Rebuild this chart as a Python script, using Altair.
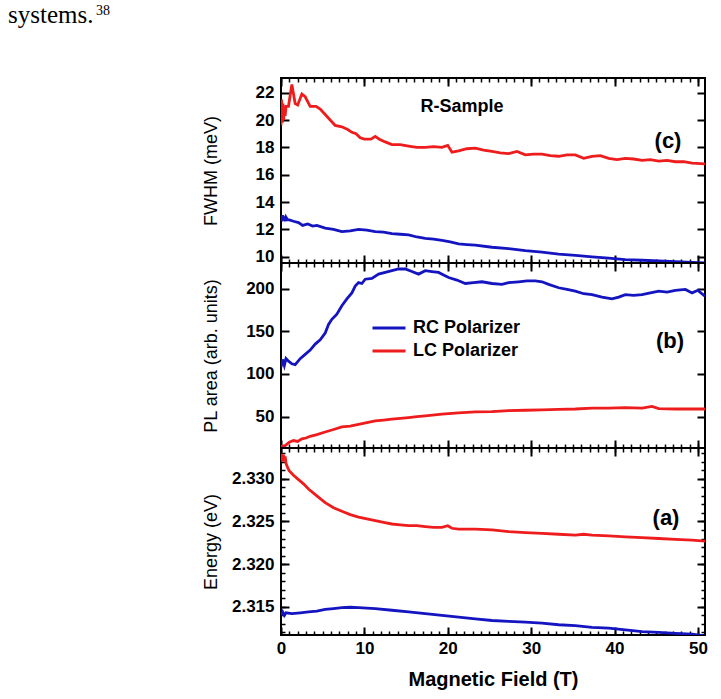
import altair as alt
import pandas as pd

# ---------------- data ----------------
SERIES = ["RC Polarizer", "LC Polarizer"]
BLUE = "#1414c0"
RED = "#ee1c1c"

# (c) FWHM (meV)
fwhm_rc_b = [0, 0.1, 0.2, 0.3, 0.4, 0.5, 0.6, 0.8, 1.0, 1.5, 2.1, 2.6, 3.2, 3.8, 4.3, 5.3, 6.3,
             7.3, 8.3, 9.3, 10.3, 11.3, 12.3, 13.3, 14.3, 15.3, 16.3, 17.3, 18.3, 19.3, 20.3,
             21.3, 22.3, 23.3, 25.3, 27.3, 29.3, 31.3, 33.3, 35.3, 37.3, 39.3, 41.3, 43.3,
             45.3, 47.3, 49.3, 50.85]
fwhm_rc = [13.0, 12.6, 13.05, 12.65, 12.95, 12.6, 12.9, 12.7, 12.7, 12.6, 12.5, 12.3, 12.4,
           12.25, 12.3, 12.1, 12.0, 11.85, 11.9, 12.0, 11.95, 11.85, 11.8, 11.7, 11.65, 11.6,
           11.45, 11.35, 11.3, 11.2, 11.1, 10.95, 10.9, 10.85, 10.7, 10.6, 10.45, 10.35, 10.2,
           10.1, 10.0, 9.9, 9.8, 9.75, 9.7, 9.65, 9.6, 9.55]
fwhm_lc_b = [0, 0.08, 0.16, 0.24, 0.32, 0.4, 0.5, 0.6, 0.9, 1.3, 1.7, 2.0, 2.5, 2.9, 3.5, 4.2,
             4.7, 5.3, 5.9, 6.5, 7.3, 8.0, 8.5, 9.0, 9.5, 10.0, 10.8, 11.3, 11.8, 12.5, 13.3,
             14.3, 15.3, 16.3, 17.3, 18.3, 19.3, 20.0, 20.5, 21.3, 22.3, 23.3, 24.3, 25.3,
             26.3, 27.3, 28.3, 29.3, 30.3, 31.3, 32.3, 33.3, 34.3, 35.3, 36.3, 37.3, 38.3,
             39.3, 40.3, 41.3, 42.3, 43.3, 44.3, 45.3, 46.3, 47.3, 48.3, 49.3, 50.85]
fwhm_lc = [19.6, 21.5, 19.8, 21.2, 20.0, 20.8, 20.3, 21.0, 21.0, 22.6, 21.2, 21.1, 21.9, 21.7,
           21.0, 21.0, 20.8, 20.4, 20.0, 19.6, 19.5, 19.3, 19.1, 19.0, 18.7, 18.6, 18.6, 18.8,
           18.6, 18.4, 18.2, 18.2, 18.1, 18.0, 18.0, 18.05, 18.0, 18.15, 17.65, 17.75, 17.9,
           17.95, 17.8, 17.7, 17.6, 17.55, 17.7, 17.45, 17.5, 17.5, 17.4, 17.35, 17.45, 17.45,
           17.2, 17.35, 17.4, 17.2, 17.1, 17.2, 17.15, 17.05, 17.1, 17.0, 17.05, 16.95, 16.95,
           16.85, 16.8]

# (b) PL area (arb. units)
pl_rc_b = [0, 0.2, 0.4, 0.6, 0.9, 1.3, 1.7, 2.3, 2.9, 3.5, 4.1, 4.7, 5.3, 5.7, 6.1, 6.7, 7.3,
           7.9, 8.5, 8.9, 9.3, 9.7, 10.1, 10.9, 11.7, 12.5, 13.3, 14.1, 14.9, 15.7, 16.5, 17.3,
           18.1, 18.9, 19.5, 20.1, 21.1, 22.1, 23.1, 24.1, 25.3, 26.5, 27.3, 28.5, 29.5, 30.5,
           31.3, 32.1, 33.3, 34.3, 35.3, 36.3, 37.3, 38.5, 39.7, 40.5, 41.3, 42.3, 43.3, 44.3,
           45.3, 46.3, 47.3, 48.5, 49.3, 50.0, 50.85]
pl_rc = [108, 117, 110, 118, 115, 112, 111, 118, 123, 128, 135, 140, 148, 158, 164, 170, 180,
         188, 195, 203, 207, 206, 211, 212, 217, 219, 221, 223, 223, 220, 217, 221, 220, 219,
         216, 213, 210, 206, 207, 208, 206, 205, 207, 208, 209, 209, 208, 205, 201, 199, 197,
         194, 193, 190, 188, 190, 193, 192, 193, 195, 197, 196, 198, 199, 195, 198, 191]
pl_lc_b = [0, 0.5, 1.0, 1.5, 2.0, 2.5, 3.0, 3.5, 4.3, 5.3, 6.3, 7.3, 8.3, 9.3, 10.3, 11.3, 12.3,
           13.3, 14.3, 15.3, 16.3, 17.3, 19.3, 21.3, 23.3, 25.3, 27.3, 29.3, 31.3, 33.3, 35.3,
           37.3, 39.3, 41.3, 43.3, 44.5, 45.3, 47.3, 49.3, 50.85]
pl_lc = [15, 16, 20, 22, 21, 24, 25, 27, 29, 32, 35, 38, 39, 41, 43, 45, 46, 47, 48, 49, 50,
         51, 53, 54.5, 55.5, 56, 57, 57.5, 58, 58.5, 59, 60, 60, 60.5, 60, 62, 59.5, 59, 59, 59]

# (a) Energy (eV)
en_rc_b = [0, 0.2, 0.4, 0.6, 1.3, 2.3, 3.3, 4.3, 5.3, 6.3, 7.3, 8.3, 9.3, 11.3, 13.3, 15.3,
           17.3, 19.3, 21.3, 23.3, 25.3, 27.3, 29.3, 31.3, 33.3, 35.3, 37.3, 39.3, 41.3, 43.3,
           45.3, 47.3, 49.3, 50.85]
en_rc = [2.3140, 2.3144, 2.3140, 2.3143, 2.3142, 2.3143, 2.3144, 2.3145, 2.3147, 2.3148,
         2.3149, 2.31495, 2.3149, 2.3148, 2.3146, 2.3144, 2.3142, 2.3140, 2.3138, 2.3136,
         2.3134, 2.3133, 2.3132, 2.3131, 2.3129, 2.3128, 2.3126, 2.3125, 2.3123, 2.3121,
         2.3120, 2.3119, 2.3118, 2.3116]
en_lc_b = [0, 0.1, 0.2, 0.3, 0.4, 0.5, 0.6, 0.8, 1.0, 1.5, 2.1, 2.7, 3.3, 4.3, 5.3, 6.3, 7.3,
           8.3, 9.3, 10.3, 11.3, 12.3, 13.3, 14.3, 15.3, 16.3, 17.3, 18.3, 19.3, 20.0, 20.5,
           21.3, 23.3, 25.3, 27.3, 29.3, 31.3, 33.3, 35.3, 36.3, 37.3, 39.3, 41.3, 43.3, 45.3,
           47.3, 49.3, 50.85]
en_lc = [2.3323, 2.3329, 2.3320, 2.3328, 2.3321, 2.3326, 2.3318, 2.3313, 2.3309, 2.3304,
         2.3299, 2.3294, 2.3288, 2.3280, 2.3272, 2.3266, 2.3262, 2.3258, 2.3255, 2.3253,
         2.3251, 2.3249, 2.3247, 2.3246, 2.3245, 2.3245, 2.3244, 2.3243, 2.3243, 2.3245,
         2.3242, 2.3241, 2.3241, 2.3240, 2.3238, 2.3237, 2.3236, 2.3235, 2.3234, 2.3235,
         2.3234, 2.3233, 2.3232, 2.3231, 2.3230, 2.3229, 2.3228, 2.3227]

# axis tick values
X_MAJOR = [0, 10, 20, 30, 40, 50]
X_MINOR = list(range(0, 51))
FWHM_TICKS = [10, 12, 14, 16, 18, 20, 22]
PL_TICKS = [50, 100, 150, 200]
EN_TICKS = [2.315, 2.320, 2.325, 2.330]
EN_MINOR = [round(2.312 + 0.001 * i, 3) for i in range(22)]

X_DOMAIN = [0, 50.85]
W = 424
FONT = "Liberation Sans"


def table(xr, yr, xl, yl):
    return pd.concat([
        pd.DataFrame({"field": xr, "value": yr, "series": SERIES[0]}),
        pd.DataFrame({"field": xl, "value": yl, "series": SERIES[1]}),
    ], ignore_index=True)


def note(text, x, y, size=22, font=FONT, weight="bold", align="center", baseline="middle"):
    return alt.Chart(pd.DataFrame({"k": [0]})).mark_text(
        text=text, font=font, fontSize=size, fontWeight=weight, align=align,
        baseline=baseline, color="black",
    ).encode(x=alt.value(x), y=alt.value(y))


def panel(df, ydom, ymajor, yminor, h, ytitle, yfmt, bottom, legend, notes):
    xs = alt.Scale(domain=X_DOMAIN, nice=False, zero=False)
    ys = alt.Scale(domain=ydom, nice=False, zero=False)
    base = alt.Chart(df)
    tick_common = dict(labels=False, domain=False, grid=False, title=None, tickColor="black")

    def ghost(xaxis=None, yaxis=None):
        return base.mark_line(strokeOpacity=0, clip=True).encode(
            x=alt.X("field:Q", scale=xs, axis=xaxis),
            y=alt.Y("value:Q", scale=ys, axis=yaxis),
            detail="series:N",
        )

    layers = []
    # inward x ticks on top and bottom edges
    for orient in ("bottom", "top"):
        layers.append(ghost(xaxis=alt.Axis(orient=orient, offset=-h, values=X_MAJOR,
                                           tickSize=8, tickWidth=2, **tick_common)))
        layers.append(ghost(xaxis=alt.Axis(orient=orient, offset=-h, values=X_MINOR,
                                           tickSize=4, tickWidth=1.5, **tick_common)))
    # inward y ticks on left and right edges
    for orient in ("right", "left"):
        layers.append(ghost(yaxis=alt.Axis(orient=orient, offset=-W, values=ymajor,
                                           tickSize=8, tickWidth=2, **tick_common)))
        if yminor:
            layers.append(ghost(yaxis=alt.Axis(orient=orient, offset=-W, values=yminor,
                                               tickSize=4, tickWidth=1.5, **tick_common)))
    # labelled y axis
    layers.append(ghost(yaxis=alt.Axis(
        orient="left", values=ymajor, format=yfmt, ticks=False, domain=False, grid=False,
        labelPadding=7, labelFlush=False, labelOverlap=False, minExtent=52, maxExtent=52,
        title=ytitle, titleFontSize=18, titleFontWeight="normal", titlePadding=9,
        titleFont=FONT, titleColor="black")))
    if bottom:
        layers.append(ghost(xaxis=alt.Axis(
            orient="bottom", values=X_MAJOR, ticks=False, domain=False, grid=False,
            labelPadding=5, labelFlush=False, labelOverlap=False,
            title="Magnetic Field (T)", titleFontSize=20, titleFontWeight="bold",
            titlePadding=13, titleFont=FONT, titleColor="black")))

    lines = base.mark_line(strokeWidth=2.8, clip=True).encode(
        x=alt.X("field:Q", scale=xs, axis=None),
        y=alt.Y("value:Q", scale=ys, axis=None),
        color=alt.Color("series:N", scale=alt.Scale(domain=SERIES, range=[BLUE, RED]),
                        legend=legend),
    )
    layers.append(lines)
    layers.extend(notes)
    return alt.layer(*layers).resolve_axis(x="independent", y="independent").properties(
        width=W, height=h)


top = panel(
    table(fwhm_rc_b, fwhm_rc, fwhm_lc_b, fwhm_lc), [9.55, 23.07], FWHM_TICKS, None, 185,
    "FWHM (meV)", "d", False, None,
    [note("R-Sample", 181, 29, size=18), note("(c)", 387, 63),
     note("systems.", -273, -55, size=25, font="Liberation Serif", weight="normal",
          align="left", baseline="alphabetic"),
     note("38", -185, -63, size=14, font="Liberation Serif", weight="normal",
          align="left", baseline="alphabetic")],
)

# long thin line symbol: custom path spanning +-2 units, so its length is 2*sqrt(size)
mid_legend = alt.Legend(
    orient="none", legendX=98, legendY=55, title=None, symbolType="M-2,0H2",
    symbolSize=272, symbolStrokeWidth=3, labelFont=FONT, labelFontSize=18,
    labelFontWeight="bold", labelColor="black", labelOffset=14, rowPadding=4, padding=0,
)
mid = panel(
    table(pl_rc_b, pl_rc, pl_lc_b, pl_lc), [13.3, 230], PL_TICKS, None, 185,
    "PL area (arb. units)", "d", False, mid_legend,
    [note("(b)", 389, 78)],
)

bot = panel(
    table(en_rc_b, en_rc, en_lc_b, en_lc), [2.3117, 2.3336], EN_TICKS, EN_MINOR, 187,
    "Energy (eV)", ".3f", True, None,
    [note("(a)", 385, 70)],
)

chart = alt.vconcat(top, mid, bot, spacing=0, bounds="flush").resolve_scale(
    color="independent"
).properties(
    padding={"left": 7, "top": 2, "right": 5, "bottom": 5}
).configure(background="white").configure_view(
    stroke="black", strokeWidth=2
).configure_axis(
    labelFont=FONT, labelFontSize=17, labelFontWeight="bold", labelColor="black",
)

chart.save("out.html", embed_options={"renderer": "svg", "actions": False})
